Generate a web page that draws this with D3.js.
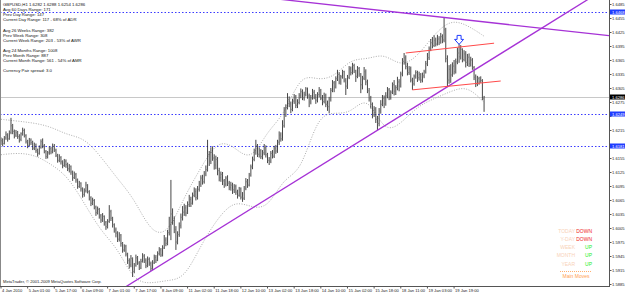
<!DOCTYPE html>
<html>
<head>
<meta charset="utf-8">
<script src="https://cdn.jsdelivr.net/npm/d3@7"></script>
<style>
  body { margin: 0; background: #fff; }
  svg { display: block; }
  text { font-family: "Liberation Sans", Arial, sans-serif; }
</style>
</head>
<body>
<div id="chart"></div>
<script>
// GBPUSD H1, 4 Jan 2010 - 20 Jan 2010, prices in pips above 1.5000
const firstOpen = 1190;
const barClose = [
  1192,1186,1198,1205,1196,1210,1224,1212,1204,1209, 1201,1195,1207,1214,1203,1190,1182,1193,1188,1176,
  1183,1171,1165,1178,1190,1181,1169,1158,1166,1175, 1168,1180,1172,1160,1150,1156,1147,1139,1148,1141,
  1132,1137,1125,1113,1120,1108,1094,1101,1089,1077, 1085,1097,1083,1070,1058,1064,1050,1038,1045,1031,
  1022,1030,1017,1008,1019,1040,1026,1012,1001,994,  981,990,972,958,966,949,935,926,940,912,
  925,941,930,919,933,945,936,924,938,929,           918,930,942,936,950,958,947,962,979,972,
  995,1012,1035,1021,1002,975,991,1010,1028,1039,    1048,1037,1055,1066,1058,1075,1083,1070,1088,1099,
  1112,1104,1121,1130,1162,1148,1167,1155,1140,1152, 1128,1113,1120,1106,1099,1112,1101,1092,1097,1087,
  1094,1082,1075,1089,1071,1069,1090,1104,1097,1118, 1136,1152,1168,1181,1163,1171,1158,1166,1177,1162,
  1150,1148,1165,1159,1176,1170,1189,1204,1196,1224, 1248,1263,1280,1271,1259,1277,1286,1268,1274,1289,
  1297,1284,1291,1303,1288,1275,1284,1296,1286,1279, 1291,1300,1283,1276,1289,1270,1265,1281,1300,1316,
  1307,1325,1334,1318,1329,1340,1322,1309,1328,1346, 1338,1353,1342,1330,1347,1335,1312,1326,1340,1318,
  1299,1282,1270,1248,1260,1238,1229,1256,1270,1283, 1271,1288,1301,1286,1296,1312,1298,1306,1318,1309,
  1335,1362,1370,1351,1338,1346,1322,1314,1330,1338, 1327,1334,1322,1331,1340,1357,1370,1389,1402,1396,
  1407,1399,1410,1402,1415,1408,1430,1368,1322,1345, 1333,1352,1340,1361,1380,1372,1388,1366,1378,1360,
  1371,1357,1365,1349,1328,1314,1325,1318,1321,1282,1286
];
const barHigh = [
  1199,1197,1202,1212,1208,1214,1241,1228,1216,1215, 1213,1206,1210,1220,1218,1206,1194,1198,1197,1192,
  1188,1186,1175,1182,1195,1197,1185,1172,1170,1180, 1179,1186,1185,1175,1164,1163,1159,1150,1153,1152,
  1145,1142,1139,1128,1126,1123,1111,1106,1103,1092, 1090,1104,1099,1086,1073,1070,1067,1053,1051,1048,
  1035,1037,1032,1020,1024,1054,1044,1029,1015,1006, 998,996,992,975,970,969,952,940,947,942,
  930,948,945,934,939,951,949,940,944,942,           933,936,948,947,955,964,962,968,990,985,
  1001,1029,1108,1047,1030,1009,998,1017,1036,1052,  1057,1054,1062,1076,1072,1081,1092,1090,1095,1106,
  1118,1119,1127,1139,1194,1170,1178,1180,1163,1160, 1157,1134,1126,1125,1110,1116,1118,1106,1104,1102,
  1099,1098,1087,1093,1092,1082,1095,1112,1110,1123, 1141,1158,1175,1194,1185,1178,1174,1172,1185,1182,
  1166,1157,1170,1172,1181,1183,1194,1212,1210,1236, 1264,1270,1294,1287,1276,1282,1292,1290,1281,1294,
  1304,1302,1297,1307,1306,1293,1290,1303,1301,1292, 1296,1307,1303,1290,1295,1293,1278,1286,1305,1322,
  1320,1330,1344,1339,1333,1344,1342,1326,1333,1352, 1351,1359,1357,1344,1352,1350,1337,1331,1350,1345,
  1323,1305,1288,1274,1266,1264,1245,1262,1279,1290, 1289,1296,1307,1305,1300,1317,1322,1311,1329,1324,
  1340,1369,1380,1375,1359,1352,1351,1327,1334,1343, 1342,1340,1337,1338,1344,1363,1380,1394,1410,1414,
  1418,1413,1419,1416,1423,1420,1457,1434,1375,1354, 1356,1360,1365,1368,1391,1401,1397,1390,1386,1384,
  1378,1379,1372,1369,1352,1334,1331,1329,1330,1324,1288
];
const barLow = [
  1183,1180,1184,1194,1190,1194,1206,1206,1197,1200, 1196,1188,1191,1203,1199,1186,1176,1180,1183,1172,
  1172,1166,1158,1162,1175,1176,1165,1153,1154,1162, 1163,1165,1168,1157,1145,1146,1141,1133,1136,1134,
  1127,1124,1119,1106,1110,1102,1089,1091,1083,1070, 1072,1081,1079,1064,1052,1054,1045,1031,1034,1025,
  1016,1018,1010,1001,1004,1016,1020,1006,995,985,   975,976,965,952,954,944,928,918,921,900,
  908,922,926,915,917,931,930,919,921,924,           913,915,928,930,934,946,943,944,960,966,
  968,989,979,1012,994,958,970,986,1004,1021,        1031,1030,1035,1050,1050,1055,1071,1064,1066,1083,
  1093,1098,1100,1116,1126,1138,1142,1149,1130,1131, 1118,1105,1104,1097,1091,1094,1095,1086,1085,1078,
  1080,1076,1068,1072,1066,1061,1065,1086,1091,1094, 1115,1131,1148,1162,1157,1156,1153,1152,1161,1156,
  1144,1140,1144,1154,1155,1164,1166,1183,1190,1192, 1220,1243,1259,1264,1251,1255,1271,1262,1262,1270,
  1283,1279,1278,1287,1282,1264,1270,1280,1281,1271, 1274,1285,1279,1268,1272,1264,1256,1251,1276,1296,
  1296,1304,1320,1313,1312,1325,1317,1290,1303,1324, 1332,1334,1337,1318,1326,1329,1294,1302,1322,1311,
  1294,1276,1261,1240,1243,1230,1215,1223,1250,1266, 1262,1267,1283,1279,1280,1292,1289,1290,1300,1298,
  1306,1330,1355,1345,1332,1333,1317,1301,1310,1325, 1318,1321,1316,1317,1326,1336,1352,1365,1384,1390,
  1393,1394,1396,1397,1400,1401,1403,1360,1307,1314, 1316,1329,1334,1336,1356,1359,1366,1360,1362,1349,
  1352,1350,1351,1344,1322,1307,1309,1312,1316,1279,1254
];

// Bollinger envelope (bar index, pips)
const bandBar   = [0, 10, 20, 30, 40, 50, 60, 70, 80, 90, 100, 110, 120, 130, 140, 150, 160, 170, 180, 190, 200, 210, 220, 230, 240, 250, 260, 270, 280, 290];
const bandUpper = [1238,1234,1230,1222,1204,1198,1158,1110,1068,995,990,1072,1134,1194,1180,1146,1214,1246,1336,1322,1328,1368,1366,1380,1350,1372,1420,1452,1440,1416];
const bandLower = [1162,1166,1162,1142,1116,1058,998,962,890,886,893,896,968,1026,1064,1050,1046,1114,1124,1246,1252,1250,1292,1208,1228,1266,1282,1298,1310,1274];

const timeLabels = ['4 Jan 2010','5 Jan 01:00','5 Jan 17:00','6 Jan 09:00','7 Jan 01:00','7 Jan 17:00',
  '8 Jan 09:00','11 Jan 02:00','11 Jan 18:00','12 Jan 10:00','13 Jan 02:00','13 Jan 18:00',
  '14 Jan 10:00','15 Jan 02:00','15 Jan 18:00','18 Jan 11:00','19 Jan 03:00','19 Jan 19:00'];
const priceTicks = d3.range(21).map(k => 1.5885 + k * 0.003);
const levelLines = [1.6468, 1.6249, 1.6181];
const lastPrice = 1.6286;

const supportLine = [[92, 1.5917], [352, 1.6494]];
const resistLine  = [[226, 1.6472], [317, 1.6436]];
const channelTop  = [[243, 1.6380], [296, 1.6401]];
const channelBot  = [[247, 1.6301], [300, 1.6320]];
const arrowAt = [275, 1.6407];

const infoLines = [
  'GBPUSD,H1  1.6282 1.6288 1.6254 1.6286',
  'Avg 60 Days Range: 171',
  'Prev Day Range: 147',
  'Current Day Range: 117 - 68% of ADR',
  '',
  'Avg 26 Weeks Range: 382',
  'Prev Week Range: 308',
  'Current Week Range: 203 - 53% of AWR',
  '',
  'Avg 24 Months Range: 1008',
  'Prev Month Range: 887',
  'Current Month Range: 561 - 54% of AMR',
  '',
  'Currency Pair spread: 3.0'
];
const moveNames = ['TODAY', 'Y-DAY', 'WEEK', 'MONTH', 'YEAR'];
const moveDirs  = ['DOWN', 'DOWN', 'UP', 'UP', 'UP'];

const W = 625, H = 294;
const plotR = 609, plotB = 286;
const fs = 4.1;
const px = v => 1.5 + v / 10000;

const svg = d3.select('#chart').append('svg')
  .attr('width', W).attr('height', H);

const x = d3.scaleLinear().domain([0, 365]).range([1, plotR]);
const y = d3.scaleLinear().domain([1.5885, 1.6485]).range([284, 4]);

svg.append('clipPath').attr('id', 'plot')
  .append('rect').attr('x', 0).attr('y', 0).attr('width', plotR).attr('height', plotB);

const g = svg.append('g').attr('clip-path', 'url(#plot)');

// horizontal levels
g.selectAll('line.lvl').data(levelLines).enter().append('line')
  .attr('x1', 0).attr('x2', plotR)
  .attr('y1', d => Math.round(y(d)) + 0.5).attr('y2', d => Math.round(y(d)) + 0.5)
  .attr('stroke', '#3a3aff').attr('stroke-dasharray', '1.5,2');

g.append('line')
  .attr('x1', 0).attr('x2', plotR)
  .attr('y1', Math.round(y(lastPrice)) + 0.5).attr('y2', Math.round(y(lastPrice)) + 0.5)
  .attr('stroke', '#c8c8c8');

// bands
const bandLine = d3.line()
  .x((d, i) => x(bandBar[i]))
  .y(d => y(px(d)))
  .curve(d3.curveBasis);
[bandUpper, bandLower].forEach(arr => {
  g.append('path').datum(arr)
    .attr('d', bandLine)
    .attr('fill', 'none').attr('stroke', '#a4a4a4')
    .attr('stroke-width', 0.9).attr('stroke-dasharray', '1,1.5');
});

// bars
const bars = barClose.map((c, i) => ({
  i, c, h: barHigh[i], l: barLow[i], o: i === 0 ? firstOpen : barClose[i - 1]
}));
const bg = g.append('g');
bg.selectAll('line.hl').data(bars).enter().append('line')
  .attr('x1', d => x(d.i)).attr('x2', d => x(d.i))
  .attr('y1', d => y(px(d.h))).attr('y2', d => y(px(d.l)))
  .attr('stroke', '#262626').attr('stroke-width', 0.85);
bg.selectAll('line.op').data(bars).enter().append('line')
  .attr('x1', d => x(d.i) - 0.8).attr('x2', d => x(d.i))
  .attr('y1', d => y(px(d.o))).attr('y2', d => y(px(d.o)))
  .attr('stroke', '#777').attr('stroke-width', 0.8);
bg.selectAll('line.cl').data(bars).enter().append('line')
  .attr('x1', d => x(d.i)).attr('x2', d => x(d.i) + 0.8)
  .attr('y1', d => y(px(d.c))).attr('y2', d => y(px(d.c)))
  .attr('stroke', '#777').attr('stroke-width', 0.8);

// trend lines (rays through two anchors)
function extend(p) {
  const k = (p[1][1] - p[0][1]) / (p[1][0] - p[0][0]);
  return [[0, p[0][1] - k * p[0][0]], [365, p[0][1] + k * (365 - p[0][0])]];
}
[supportLine, resistLine].forEach(p => {
  const e = extend(p);
  g.append('line')
    .attr('x1', x(e[0][0])).attr('y1', y(e[0][1]))
    .attr('x2', x(e[1][0])).attr('y2', y(e[1][1]))
    .attr('stroke', '#a632d6').attr('stroke-width', 1.3);
});
[channelTop, channelBot].forEach(p => {
  g.append('line')
    .attr('x1', x(p[0][0])).attr('y1', y(p[0][1]))
    .attr('x2', x(p[1][0])).attr('y2', y(p[1][1]))
    .attr('stroke', '#ff4a4a').attr('stroke-width', 1);
});

// sell arrow
const ax = x(arrowAt[0]), ay = y(arrowAt[1]);
g.append('path')
  .attr('d', `M${ax - 2},${ay - 5} h4 v4 h2.5 l-4.5,5 l-4.5,-5 h2.5 z`)
  .attr('fill', '#fff').attr('stroke', '#1f3cff').attr('stroke-width', 1);

// frame
svg.append('line').attr('x1', plotR + 0.5).attr('x2', plotR + 0.5).attr('y1', 0).attr('y2', plotB)
  .attr('stroke', '#555');
svg.append('line').attr('x1', 0).attr('x2', plotR + 1).attr('y1', plotB + 0.5).attr('y2', plotB + 0.5)
  .attr('stroke', '#555');
svg.append('line').attr('x1', 0.5).attr('x2', 0.5).attr('y1', 0).attr('y2', plotB)
  .attr('stroke', '#888');

// price axis (labels hidden where a price tag sits on top)
const tagged = levelLines.concat([lastPrice]);
const freeTicks = priceTicks.filter(t => tagged.every(v => Math.abs(y(v) - y(t)) > 4.5));
svg.selectAll('line.pt').data(priceTicks).enter().append('line')
  .attr('x1', plotR).attr('x2', plotR + 2.5)
  .attr('y1', d => Math.round(y(d)) + 0.5).attr('y2', d => Math.round(y(d)) + 0.5)
  .attr('stroke', '#555');
svg.selectAll('text.pt').data(freeTicks).enter().append('text')
  .attr('x', plotR + 3).attr('y', d => y(d) + 1.5)
  .attr('font-size', fs).attr('fill', '#222')
  .text(d => d.toFixed(4));

function tag(v, color) {
  const yy = Math.round(y(v));
  svg.append('rect').attr('x', plotR + 1).attr('y', yy - 2.5).attr('width', W - plotR - 1).attr('height', 5)
    .attr('fill', color);
  svg.append('text').attr('x', plotR + 3).attr('y', yy + 1.5)
    .attr('font-size', fs).attr('fill', '#fff').text(v.toFixed(4));
}
levelLines.forEach(v => tag(v, '#1f3cff'));
tag(lastPrice, '#000');

// time axis
svg.selectAll('line.tt').data(timeLabels).enter().append('line')
  .attr('x1', (d, k) => x(k * 16)).attr('x2', (d, k) => x(k * 16))
  .attr('y1', plotB).attr('y2', plotB + 2.5).attr('stroke', '#555');
svg.selectAll('text.tt').data(timeLabels).enter().append('text')
  .attr('x', (d, k) => x(k * 16) + 1).attr('y', 292)
  .attr('font-size', fs).attr('fill', '#222')
  .text(d => d);

// info block
svg.selectAll('text.info').data(infoLines).enter().append('text')
  .attr('x', 3).attr('y', (d, i) => 6 + i * 5.1)
  .attr('font-size', 4.3).attr('fill', '#111')
  .text(d => d);

svg.append('text').attr('x', 3).attr('y', 283)
  .attr('font-size', fs).attr('fill', '#222')
  .text('MetaTrader, \u00a9 2001-2009 MetaQuotes Software Corp.');

// main moves panel
const mv = svg.append('g');
mv.selectAll('text.mn').data(moveNames).enter().append('text')
  .attr('x', 575).attr('y', (d, i) => 232.5 + i * 8.3)
  .attr('text-anchor', 'end').attr('font-size', 5).attr('fill', '#f8d2b8')
  .text(d => d);
mv.selectAll('text.md').data(moveDirs).enter().append('text')
  .attr('x', 592).attr('y', (d, i) => 232.5 + i * 8.3)
  .attr('text-anchor', 'end').attr('font-size', 5)
  .attr('fill', d => d === 'UP' ? '#22ee22' : '#ee1c1c')
  .text(d => d);
mv.append('line').attr('x1', 560).attr('x2', 592).attr('y1', 271.5).attr('y2', 271.5)
  .attr('stroke', '#ffb070').attr('stroke-dasharray', '1,1');
mv.append('text').attr('x', 576).attr('y', 278)
  .attr('text-anchor', 'middle').attr('font-size', 5).attr('fill', '#ffa050')
  .text('Main Moves');
</script>
</body>
</html>
